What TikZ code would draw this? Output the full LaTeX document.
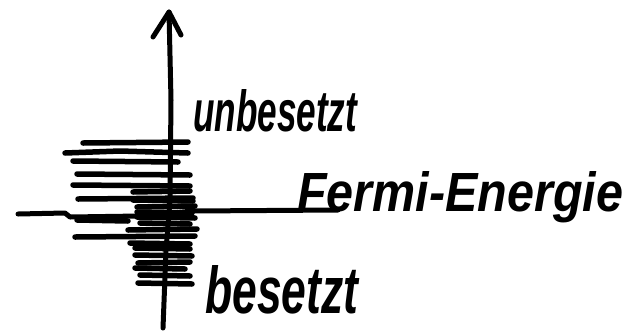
\documentclass[tikz,border=0pt]{standalone}
\usepackage{fontspec}
\usepackage{graphicx}
\setmainfont{Liberation Sans}
\tikzset{
  stroke/.style={line width=5pt, line cap=round, line join=round},
  lvl/.style={line width=5.5pt, line cap=round},
  lab/.style={inner sep=0pt, anchor=base west, font=\bfseries\itshape}
}
\begin{document}
\begin{tikzpicture}[x=1pt,y=-1pt]
\useasboundingbox (0,0) rectangle (626,333);
% axis
\coordinate (axb) at (163,328);
\coordinate (axm) at (170,200);
\coordinate (axt) at (169,12);
\coordinate (arl) at (153,37);
\coordinate (arr) at (181,35);
\draw[stroke] (axb) -- (166,250) -- (axm) -- (171,100) -- (axt);
\draw[stroke] (arl) -- (axt) -- (arr);
% levels (long)
\draw[lvl] (83,143) -- (188,142);
\draw[lvl] (65,153) -- (120,151) -- (188,153);
\draw[lvl] (73,161) -- (178,162);
\draw[lvl] (77,174) -- (190,175);
\draw[lvl] (73,185) -- (190,186);
\draw[lvl] (78,199) -- (193,198);
\draw[lvl] (77,220) -- (128,221);
\draw[lvl] (75,237) -- (195,236);
% dense levels near the axis
\draw[lvl] (133,192) -- (190,191);
\draw[lvl] (133,200) -- (193,201);
\draw[lvl] (137,207) -- (195,206);
\draw[lvl] (137,212) -- (192,213);
\draw[lvl] (137,217) -- (195,218);
\draw[lvl] (140,223) -- (190,224);
\draw[lvl] (128,230) -- (197,229);
\draw[lvl] (130,243) -- (190,244);
\draw[lvl] (135,248) -- (190,249);
\draw[lvl] (135,255) -- (192,256);
\draw[lvl] (138,263) -- (190,262);
\draw[lvl] (135,268) -- (185,269);
\draw[lvl] (140,275) -- (190,276);
\draw[lvl] (138,283) -- (192,284);
% Fermi line
\coordinate (fl) at (18,214);
\coordinate (fr) at (338,210);
\draw[stroke] (fl) -- (65,213) -- (70,217) -- (140,216) -- (193,211) -- (fr);
% labels
\node[lab] (unb) at (193,131) {\resizebox{164pt}{42pt}{unbesetzt}};
\node[lab] (fer) at (297,211) {\resizebox{326pt}{40pt}{Fermi-Energie}};
\node[lab] (bes) at (205,313) {\resizebox{153pt}{48pt}{besetzt}};
\end{tikzpicture}
\end{document}
